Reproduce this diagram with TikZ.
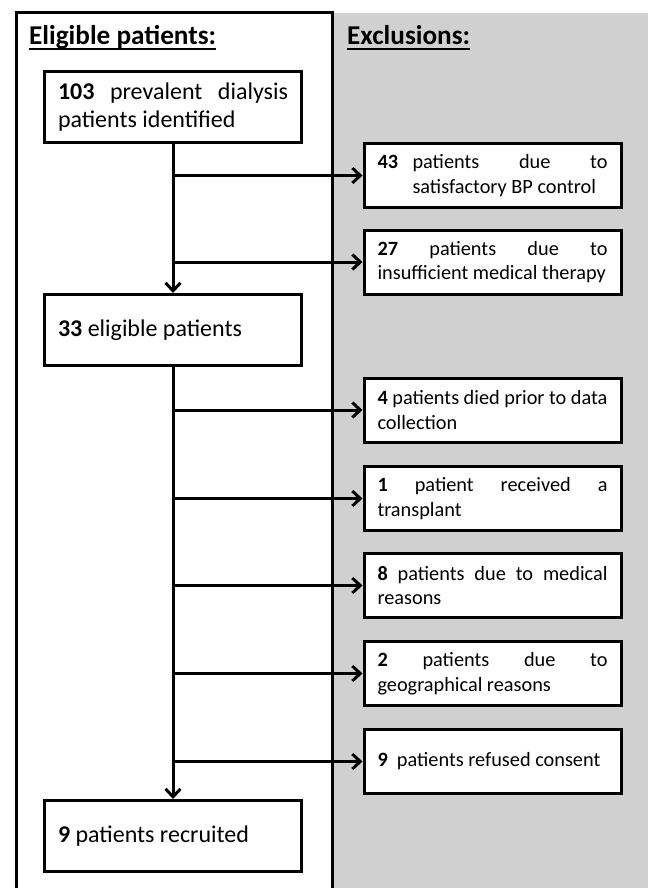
\documentclass[tikz,border=0pt]{standalone}
\usepackage{fontspec}
\setmainfont{Carlito}
\usetikzlibrary{arrows.meta}
\definecolor{exgray}{RGB}{208,208,208}
\begin{document}
\begin{tikzpicture}[x=1pt,y=-1pt,
  box/.style={draw, line width=3pt, fill=white, text width=230pt,
    inner xsep=13.5pt, inner ysep=0pt, align=justify,
    execute at begin node={\parindent=0pt\tolerance=10000\hbadness=10000\hyphenpenalty=10000\exhyphenpenalty=10000\relax}},
  mainbox/.style={box, minimum height=71pt, font=\fontsize{24pt}{28pt}\selectfont},
  exbox/.style={box, minimum height=64pt, font=\fontsize{20.3pt}{24.5pt}\selectfont},
  flow/.style={line width=3pt, -{Straight Barb[length=8pt,width=15pt]}},
  title/.style={font=\fontsize{27.2pt}{30pt}\selectfont\bfseries, inner sep=0pt, anchor=base west},
  uline/.style={line width=2pt}
]
\useasboundingbox (0,0) rectangle (648,888);
\fill[white] (0,0) rectangle (648,888);
% panels
\fill[exgray] (332,13) rectangle (648,888);
\draw[line width=3pt] (16,888) -- (16,13) -- (332,13) -- (332,888);

% titles
\node[title] (t1) at (29,45) {Eligible patients:};
\draw[uline] ([yshift=-4pt]t1.base west) -- ([yshift=-4pt]t1.base east);
\node[title] (t2) at (347,45) {Exclusions:};
\draw[uline] ([yshift=-4pt]t2.base west) -- ([yshift=-4pt]t2.base east);

% main column
\node[mainbox] (b1) at (173,107) {\textbf{103} prevalent dialysis patients identified};
\node[mainbox] (b2) at (173,330) {\textbf{33} eligible patients};
\node[mainbox] (b3) at (173,836) {\textbf{9} patients recruited};

% exclusions
\node[exbox] (e1) at (492.5,175.5) {\hangindent=35pt\hangafter=1\makebox[35pt][l]{\textbf{43}}patients due to satisfactory BP control\par};
\node[exbox] (e2) at (492.5,262) {\textbf{27} patients due to insufficient medical therapy};
\node[exbox] (e3) at (492.5,410) {\textbf{4} patients died prior to data collection};
\node[exbox] (e4) at (492.5,498.5) {\textbf{1} patient received a transplant};
\node[exbox] (e5) at (492.5,585.5) {\textbf{8} patients due to medical reasons};
\node[exbox] (e6) at (492.5,673.5) {\textbf{2} patients due to geographical reasons};
\node[exbox] (e7) at (492.5,761.5) {\textbf{9}\ \ patients refused consent};

% connectors
\draw[flow] (b1.south) -- (b2.north);
\draw[flow] (b2.south) -- (b3.north);
\foreach \e in {e1,e2} {
  \draw[flow] (b1.south |- \e.west) -- (\e.west);
}
\foreach \e in {e3,e4,e5,e6,e7} {
  \draw[flow] (b2.south |- \e.west) -- (\e.west);
}
\end{tikzpicture}
\end{document}
